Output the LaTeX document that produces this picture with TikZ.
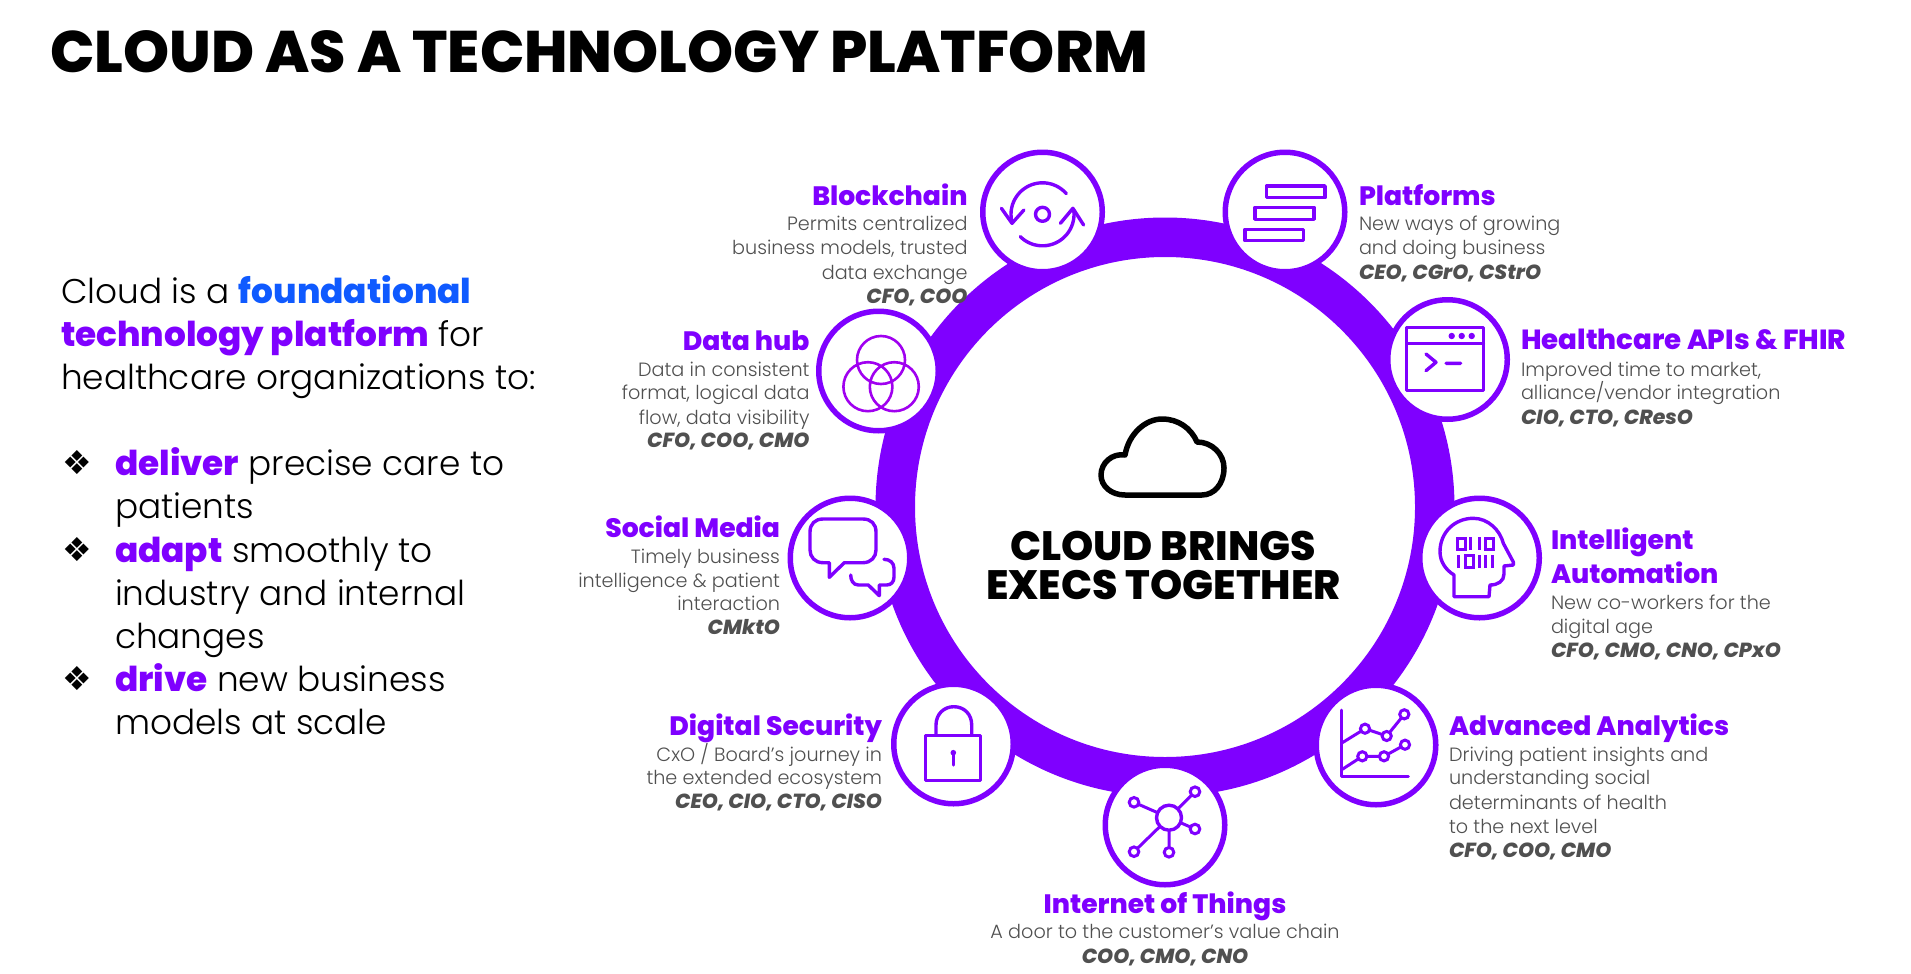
\documentclass[tikz,border=0pt]{standalone}
\usepackage{fontspec}
\setmainfont{Poppins Light}[BoldFont={Poppins ExtraBold},BoldItalicFont={Poppins ExtraBold Italic}]
\newfontfamily\bulletfont{DejaVu Sans}
\definecolor{acc}{HTML}{7F00FF}
\definecolor{hub}{HTML}{A000F0}
\definecolor{blu}{HTML}{0F5AFF}
\definecolor{gry}{HTML}{505050}
\tikzset{
  txt/.style={inner sep=0pt,outer sep=0pt,yshift=-1pt},
  hd/.style={txt,text=acc,font=\fontsize{26.6}{30}\selectfont\bfseries},
  hdw/.style={txt,text=acc,font=\fontsize{27.7}{30}\selectfont\bfseries},
  bd/.style={txt,text=gry,font=\fontsize{19.2}{24}\selectfont},
  cd/.style={txt,text=gry,font=\fontsize{20.4}{24}\selectfont\bfseries\itshape},
  ttl/.style={txt,text=black,font=\fontsize{58.6}{60}\selectfont\bfseries},
  mid/.style={txt,text=black,font=\fontsize{41}{42}\selectfont\bfseries},
  lead/.style={txt,text=black,font=\fontsize{34.3}{43}\selectfont},
  bul/.style={txt,text=black,font=\fontsize{33}{33}\selectfont\bulletfont},
  hubc/.style={circle,draw=acc,fill=white,line width=5.5pt,minimum size=119.5pt,inner sep=0pt},
  ico/.style={draw=acc,line width=3.4pt,line join=round,line cap=round},
  R/.style={anchor=base east},
  L/.style={anchor=base west},
  C/.style={anchor=base},
}
\newcommand{\pu}[1]{\textbf{\textcolor{acc}{#1}}}
\begin{document}
\begin{tikzpicture}[x=1pt,y=-1pt]
\useasboundingbox (0,0) rectangle (1911,974);
% ring
\coordinate (ctr) at (1165,507);
\fill[acc,even odd rule] (ctr) circle[radius=289.5pt] (ctr) circle[radius=250pt];
% icon circles
\node[hubc] (cBlock) at (1042.5,212) {};
\node[hubc] (cPlat) at (1285,212) {};
\node[hubc] (cApi) at (1447.5,359.5) {};
\node[hubc] (cAuto) at (1479.5,558) {};
\node[hubc] (cAna) at (1376,745) {};
\node[hubc] (cIot) at (1165,825) {};
\node[hubc] (cSec) at (953.5,744) {};
\node[hubc] (cSoc) at (850,558) {};
\node[hubc] (cData) at (878.5,371) {};
% cloud
\draw[black,line width=5.5pt,line join=round] (1125,495) .. controls (1111,495) and (1101,486) .. (1101,475) .. controls (1101,463) and (1112,453) .. (1125,455) .. controls (1129,433) and (1146,419) .. (1162,419) .. controls (1178,419) and (1191,428) .. (1197,442) .. controls (1212,442) and (1224,454) .. (1224,468) .. controls (1224,484) and (1214,495) .. (1202,495) -- cycle;
% blockchain icon
\draw[ico] (1042.5,214.3) circle[radius=7pt];
\draw[ico] plot[domain=41:196.5,samples=40,smooth] ({1042.5+31.5*cos(\x)},{214.3-31.5*sin(\x)});
\draw[ico] plot[domain=225:368,samples=40,smooth] ({1042.5+31.5*cos(\x)},{214.3-31.5*sin(\x)});
\draw[ico] (1001.4,208.3) -- (1012,223.3) -- (1023.9,210);
\draw[ico] (1060.4,223.3) -- (1072.9,208.3) -- (1083.6,225);
% platforms icon
\draw[ico] (1266.4,186) rectangle (1325,197.7);
\draw[ico] (1255,207.3) rectangle (1314,219.3);
\draw[ico] (1245,229.3) rectangle (1303.6,240.7);
% data hub icon
\draw[hub,line width=2.6pt] (881,360) circle[radius=24pt] (867.9,386.7) circle[radius=24.5pt] (894.3,386.7) circle[radius=24.5pt];
% API icon
\draw[ico] (1406.7,327.3) rectangle (1483.3,390.7) (1406.7,343.3) -- (1483.3,343.3);
\fill[acc] (1451.7,336) circle[radius=3.2pt] (1461.7,336) circle[radius=3.2pt] (1471.7,336) circle[radius=3.2pt];
\draw[ico] (1426,354) -- (1436,362.3) -- (1426,370.7) (1446,363.3) -- (1460.7,363.3);
% head icon
\draw[ico] (1454,596.7) -- (1454,575) .. controls (1446,570) and (1440,562) .. (1440,551.7) .. controls (1440,532) and (1455,518.3) .. (1473.3,518.3) .. controls (1488,518.3) and (1500,530) .. (1503.3,543.3) -- (1513.3,562) -- (1513.3,565) -- (1504,566) -- (1504,574) .. controls (1504,581) and (1498,585) .. (1490,585) -- (1489,596.7) -- cycle;
\draw[acc,line width=3pt] (1457.7,538) rectangle (1465,549) (1485.7,538) rectangle (1493.3,549) (1465,555.5) rectangle (1473.3,567);
\draw[acc,line width=3pt] (1470.7,537) -- (1470.7,550) (1479,537) -- (1479,550) (1458.3,555) -- (1458.3,568) (1479,555) -- (1479,568) (1485.7,555) -- (1485.7,568) (1492.7,555) -- (1492.7,568);
% analytics icon
\draw[ico,line width=3pt] (1341.7,710) -- (1341.7,776.7) -- (1408.3,776.7);
\draw[ico,line width=3pt] (1342.3,742.7) -- (1365,728.7) -- (1386.7,736) -- (1404.3,714.3);
\draw[ico,line width=3pt] (1342.3,769.3) -- (1362.3,756.3) -- (1384,756.3) -- (1405,744.7);
\foreach \p in {(1365,728.7),(1386.7,736),(1404.3,714.3),(1362.3,756.3),(1384,756.3),(1405,744.7)}
  \draw[acc,fill=white,line width=3pt] \p circle[radius=4.6pt];
% IoT icon
\draw[acc,line width=3pt] (1169,817.7) -- (1134,802.3) (1169,817.7) -- (1195,791.7) (1169,817.7) -- (1195,829) (1169,817.7) -- (1134,851.7) (1169,817.7) -- (1169,852.3);
\draw[acc,fill=white,line width=3.4pt] (1169,817.7) circle[radius=12.5pt];
\foreach \p in {(1134,802.3),(1195,791.7),(1195,829),(1134,851.7),(1169,852.3)}
  \draw[acc,fill=white,line width=3pt] \p circle[radius=4.8pt];
% lock icon
\draw[ico,line cap=butt] (925.7,735.7) rectangle (980.7,780.7);
\draw[ico,line cap=butt] (936,735.7) -- (936,725) .. controls (936,714) and (944,706.7) .. (953.8,706.7) .. controls (964,706.7) and (971.7,714) .. (971.7,725) -- (971.7,735.7);
\fill[acc] (953.3,752.7) circle[radius=2.8pt];
\draw[ico] (953.3,752.7) -- (953.3,765);
% social icon
\draw[ico] (829.3,562.7) -- (823,562.7) .. controls (815,562.7) and (810,557) .. (810,550) -- (810,532) .. controls (810,524) and (815,519) .. (823,519) -- (863,519) .. controls (871,519) and (876,524) .. (876,532) -- (876,550) .. controls (876,557) and (871,562.7) .. (863,562.7) -- (844.3,562.7) -- (829.3,577.3) -- cycle;
\draw[ico] (884,559.3) .. controls (890,559.3) and (894,563) .. (894,568.3) -- (894,577) .. controls (894,582) and (891,585) .. (886.7,585) -- (879.3,585) -- (879.3,595.7) -- (868.3,585) -- (858.3,585) .. controls (853,585) and (850.7,580) .. (850.7,575);
% title
\node[ttl,L] (title) at (50,72) {CLOUD AS A TECHNOLOGY PLATFORM};
% center
\node[mid,C] (m1) at (1163,559) {CLOUD BRINGS};
\node[mid,C] (m2) at (1163.5,598) {EXECS TOGETHER};
% left text
\node[lead,L] (t1) at (61,302) {Cloud is a \textbf{\textcolor{blu}{foundational}}};
\node[lead,L] (t2) at (61,345) {\pu{technology platform} for};
\node[lead,L] (t3) at (61,388) {healthcare organizations to:};
\node[bul] (b1) at (77,462) {❖};
\node[lead,L] (t4) at (115,474) {\pu{deliver} precise care to};
\node[lead,L] (t5) at (115,517) {patients};
\node[bul] (b2) at (77,549) {❖};
\node[lead,L] (t6) at (115,561) {\pu{adapt} smoothly to};
\node[lead,L] (t7) at (115,604) {industry and internal};
\node[lead,L] (t8) at (115,647) {changes};
\node[bul] (b3) at (77,678) {❖};
\node[lead,L] (t9) at (115,690) {\pu{drive} new business};
\node[lead,L] (t10) at (115,733) {models at scale};
% blockchain
\node[hd,R] (a1) at (967.5,204) {Blockchain};
\node[bd,R] (a2) at (967.5,229) {Permits centralized};
\node[bd,R] (a3) at (967.5,253) {business models, trusted};
\node[bd,R] (a4) at (967.5,278) {data exchange};
\node[cd,R] (a5) at (967.5,302) {CFO, COO};
% platforms
\node[hd,L] (p1) at (1359,204) {Platforms};
\node[bd,L] (p2) at (1359,229) {New ways of growing};
\node[bd,L] (p3) at (1359,253) {and doing business};
\node[cd,L] (p4) at (1359,278) {CEO, CGrO, CStrO};
% APIs
\node[hdw,L] (h1) at (1521,348) {Healthcare APIs \& FHIR};
\node[bd,L] (h2) at (1521,375) {Improved time to market,};
\node[bd,L] (h3) at (1521,398) {alliance/vendor integration};
\node[cd,L] (h4) at (1521,423) {CIO, CTO, CResO};
% automation
\node[hd,L] (i1) at (1551,548) {Intelligent};
\node[hd,L] (i2) at (1551,582) {Automation};
\node[bd,L] (i3) at (1551,608) {New co-workers for the};
\node[bd,L] (i4) at (1551,632) {digital age};
\node[cd,L] (i5) at (1551,656) {CFO, CMO, CNO, CPxO};
% analytics
\node[hd,L] (n1) at (1449,734) {Advanced Analytics};
\node[bd,L] (n2) at (1449,760) {Driving patient insights and};
\node[bd,L] (n3) at (1449,783) {understanding social};
\node[bd,L] (n4) at (1449,808) {determinants of health};
\node[bd,L] (n5) at (1449,832) {to the next level};
\node[cd,L] (n6) at (1449,856) {CFO, COO, CMO};
% iot
\node[hd,C] (o1) at (1165,912) {Internet of Things};
\node[bd,C] (o2) at (1165,937) {A door to the customer’s value chain};
\node[cd,C] (o3) at (1165,962) {COO, CMO, CNO};
% security
\node[hd,R] (s1) at (882,734) {Digital Security};
\node[bd,R] (s2) at (882,760) {CxO / Board’s journey in};
\node[bd,R] (s3) at (882,783) {the extended ecosystem};
\node[cd,R] (s4) at (882,807) {CEO, CIO, CTO, CISO};
% social
\node[hd,R] (m3) at (780,536) {Social Media};
\node[bd,R] (m4) at (780,562) {Timely business};
\node[bd,R] (m5) at (780,586) {intelligence \& patient};
\node[bd,R] (m6) at (780,609) {interaction};
\node[cd,R] (m7) at (780,633) {CMktO};
% data hub
\node[hd,R] (d1) at (809.5,349) {Data hub};
\node[bd,R] (d2) at (809.5,375) {Data in consistent};
\node[bd,R] (d3) at (809.5,398.5) {format, logical data};
\node[bd,R] (d4) at (809.5,423) {flow, data visibility};
\node[cd,R] (d5) at (809.5,446) {CFO, COO, CMO};
\end{tikzpicture}
\end{document}
